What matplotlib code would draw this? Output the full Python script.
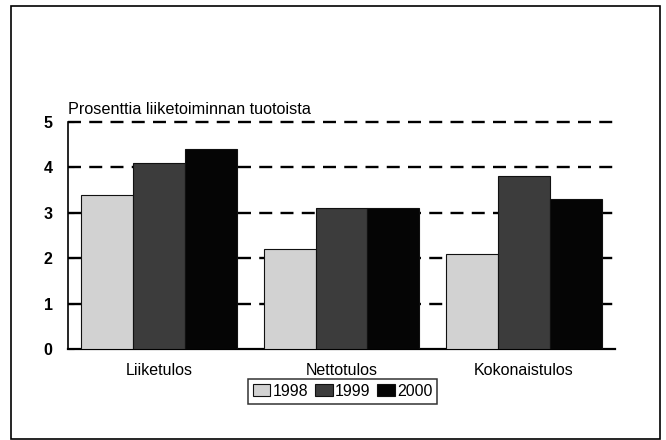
import matplotlib
matplotlib.use("Agg")
import matplotlib.pyplot as plt
from matplotlib.patches import Rectangle
import numpy as np

categories = ["Liiketulos", "Nettotulos", "Kokonaistulos"]
years = ["1998", "1999", "2000"]
values_1998 = [3.4, 2.2, 2.1]
values_1999 = [4.1, 3.1, 3.8]
values_2000 = [4.4, 3.1, 3.3]
yticks = [0, 1, 2, 3, 4, 5]
title = "Prosenttia liiketoiminnan tuotoista"

plt.rcParams['font.family'] = ['Liberation Sans', 'DejaVu Sans']

fig = plt.figure(figsize=(6.66, 4.40), dpi=100)
ax = fig.add_axes([68/666, 1-349/440, (615-68)/666, (349-122)/440])

series = [values_1998, values_1999, values_2000]
colors = ["#d2d2d2", "#3c3c3c", "#050505"]
w = 0.285
x = np.arange(len(categories))
for i, (vals, c, lab) in enumerate(zip(series, colors, years)):
    ax.bar(x + (i - 1) * w, vals, width=w, color=c, edgecolor="#111111",
           linewidth=0.8, label=lab, zorder=3)

ax.set_xlim(-0.5, 2.5)
ax.set_ylim(0, 5)
ax.set_yticks(yticks)
ax.set_yticklabels([str(t) for t in yticks], fontsize=11.5, fontweight='bold')
for y in yticks[1:]:
    ax.axhline(y, color="black", linestyle=(0, (5.5, 3.5)), linewidth=1.7,
               zorder=1, clip_on=False)
ax.set_xticks(x)
ax.set_xticklabels(categories, fontsize=11.5)
ax.tick_params(axis='x', length=0, pad=10)
ax.tick_params(axis='y', direction='in', length=4, width=0.8, pad=11)
for s in ["top", "right"]:
    ax.spines[s].set_visible(False)
ax.spines["left"].set_linewidth(1.2)
ax.spines["bottom"].set_linewidth(1.6)

ax.text(0.0, 1.02, title, transform=ax.transAxes, fontsize=11.7,
        ha='left', va='bottom')

leg = ax.legend(loc='upper center', bbox_to_anchor=(0.502, -0.132), ncol=3,
                frameon=True, fancybox=False, edgecolor='black', fontsize=11.5,
                handlelength=1.1, handleheight=0.75, handletextpad=0.12,
                columnspacing=0.45, borderpad=0.3, borderaxespad=0)
leg.get_frame().set_linewidth(1.1)

fig.patches.append(Rectangle((11/666, 1-439/440), (660-11)/666, (439-6)/440,
                             transform=fig.transFigure, fill=False,
                             edgecolor='black', linewidth=1.2))

fig.savefig("out.png", dpi=100)
